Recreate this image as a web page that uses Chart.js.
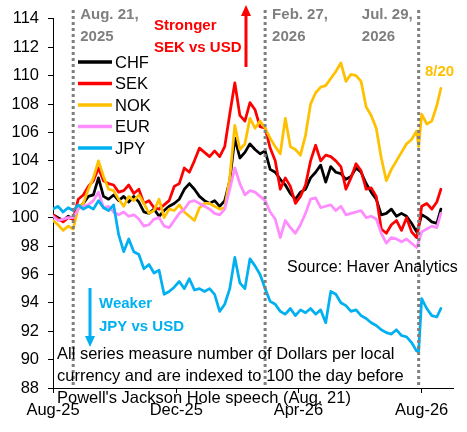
<!DOCTYPE html>
<html>
<head>
<meta charset="utf-8">
<script src="https://cdn.jsdelivr.net/npm/chart.js@4.4.1/dist/chart.umd.min.js"></script>
<style>
  html, body { margin: 0; padding: 0; background: #fff; }
</style>
</head>
<body>
<canvas id="fxChart" width="467" height="432"></canvas>
<script>
// sample dates (every 5 days, plus Jul 29)
const dates = [
  '2025-08-01','2025-08-06','2025-08-11','2025-08-16','2025-08-21','2025-08-26','2025-08-31','2025-09-05','2025-09-10','2025-09-15',
  '2025-09-20','2025-09-25','2025-09-30','2025-10-05','2025-10-10','2025-10-15','2025-10-20','2025-10-25','2025-10-30','2025-11-04',
  '2025-11-09','2025-11-14','2025-11-19','2025-11-24','2025-11-29','2025-12-04','2025-12-09','2025-12-14','2025-12-19','2025-12-24',
  '2025-12-29','2026-01-03','2026-01-08','2026-01-13','2026-01-18','2026-01-23','2026-01-28','2026-02-02','2026-02-07','2026-02-12',
  '2026-02-17','2026-02-22','2026-02-27','2026-03-04','2026-03-09','2026-03-14','2026-03-19','2026-03-24','2026-03-29','2026-04-03',
  '2026-04-08','2026-04-13','2026-04-18','2026-04-23','2026-04-28','2026-05-03','2026-05-08','2026-05-13','2026-05-18','2026-05-23',
  '2026-05-28','2026-06-02','2026-06-07','2026-06-12','2026-06-17','2026-06-22','2026-06-27','2026-07-02','2026-07-07','2026-07-12',
  '2026-07-17','2026-07-22','2026-07-27','2026-07-29','2026-08-01','2026-08-06','2026-08-11','2026-08-16','2026-08-20'
];

const chf = [
  100.2,100.0,99.8,100.1,99.9,100.7,101.0,101.5,101.6,102.8,
  101.5,101.3,101.6,101.2,101.5,101.1,101.5,101.1,100.4,100.3,
  100.6,100.1,100.5,100.8,101.0,101.3,102.0,102.4,102.0,101.5,
  101.2,101.0,101.2,100.8,101.2,102.6,105.6,104.2,104.6,105.2,
  104.8,104.5,104.7,103.4,103.2,102.7,102.3,101.7,101.3,101.8,
  102.0,102.8,103.2,103.7,102.5,103.6,103.2,103.1,102.7,102.9,
  103.5,103.2,102.4,101.8,101.3,100.2,100.3,100.6,100.1,100.3,
  100.1,99.6,99.0,99.4,100.2,100.0,99.7,99.6,100.6
];
const sek = [
  100.2,99.9,99.7,100.0,99.9,101.3,101.6,102.2,102.6,103.5,
  102.6,102.4,102.3,101.8,101.9,102.3,101.7,102.0,101.0,101.2,
  100.7,100.6,100.9,101.2,102.2,102.4,103.5,103.2,104.0,104.9,
  104.6,104.3,104.7,104.3,105.0,107.3,109.5,107.2,106.8,108.1,
  107.6,106.4,106.3,104.9,104.0,102.0,102.8,102.2,101.0,101.5,
  102.3,104.0,105.1,104.0,104.4,104.3,104.0,103.6,102.0,102.8,
  103.8,103.3,102.0,102.1,101.5,99.2,98.9,99.5,99.8,99.1,
  100.0,99.0,98.6,99.3,100.8,101.0,100.6,101.1,102.0
];
const nok = [
  99.8,99.5,99.1,99.4,99.2,100.7,101.0,102.0,102.8,104.0,
  102.9,102.0,101.9,101.3,100.8,101.5,101.2,101.6,101.0,100.3,
  100.5,101.3,100.0,100.6,100.5,100.9,100.4,100.1,99.8,100.7,
  101.0,101.0,100.8,100.6,100.7,102.8,106.5,104.8,105.2,107.0,
  106.3,106.8,106.3,105.6,105.0,104.5,107.0,105.0,104.8,104.4,
  105.8,108.0,108.8,109.2,109.3,109.8,110.3,110.9,109.6,110.1,
  110.0,109.6,107.8,107.2,106.3,104.2,102.6,103.4,104.0,104.6,
  105.2,105.5,106.1,105.0,107.3,106.6,106.8,107.9,109.1
];
const eur = [
  100.1,99.8,99.9,100.0,100.0,100.6,100.8,100.9,101.2,101.8,
  100.7,100.8,100.4,100.2,100.4,100.1,100.2,99.9,99.4,99.5,
  99.9,100.0,99.4,99.3,99.8,100.3,100.6,101.1,101.2,101.0,
  100.8,100.6,100.3,100.2,100.6,102.0,103.5,102.4,101.6,101.9,
  101.8,101.5,101.2,100.4,99.9,98.6,99.8,99.3,98.9,99.5,
  100.3,101.3,101.4,100.7,100.8,100.9,100.5,100.8,100.2,100.3,
  100.4,100.5,100.0,100.1,99.9,98.9,98.2,98.6,98.5,98.3,
  98.5,98.2,97.9,98.3,99.0,99.2,99.4,99.3,100.3
];
const jpy = [
  100.6,100.8,100.4,100.7,100.5,100.9,100.6,100.8,100.6,101.2,
  100.7,100.5,100.9,98.8,97.6,98.5,97.6,97.4,96.4,96.7,
  96.1,96.3,94.6,94.8,95.1,95.5,95.0,95.7,94.9,95.0,
  94.8,95.0,94.6,93.4,93.9,95.0,97.2,95.4,95.0,97.1,
  96.6,96.0,95.0,94.1,93.9,93.4,93.2,93.6,93.1,93.5,
  93.3,93.6,93.2,93.5,92.6,94.8,94.6,94.0,93.8,93.4,
  93.5,93.1,92.9,92.6,92.4,92.1,91.9,91.8,92.1,91.7,
  91.6,91.2,90.6,90.6,94.3,93.6,93.1,93.0,93.6
];

const seriesNames = ['CHF', 'SEK', 'NOK', 'EUR', 'JPY'];
const seriesValues = [chf, sek, nok, eur, jpy];
const seriesColors = ['#000000', '#FF0000', '#FFC000', '#FF8CFF', '#00B0F0'];

const tickDates = ['2025-08-01', '2025-12-01', '2026-04-01', '2026-08-01'];
const tickLabels = ['Aug-25', 'Dec-25', 'Apr-26', 'Aug-26'];
const axisStart = '2025-08-01';
const axisEnd = '2026-09-01';

const eventDates = ['2025-08-21', '2026-02-27', '2026-07-29'];
const eventLabels = [['Aug. 21,', '2025'], ['Feb. 27,', '2026'], ['Jul. 29,', '2026']];

const noteLines = [
  'All series measure number of Dollars per local',
  'currency and are indexed to 100 the day before',
  "Powell's Jackson Hole speech (Aug. 21)"
];

const FONT = '"Liberation Sans", Arial, sans-serif';

// days since epoch
function day(s) {
  return Date.parse(s + 'T00:00:00Z') / 864e5;
}

function arrow(ctx, x, y1, y2, color) {
  const dir = y2 < y1 ? -1 : 1;
  ctx.strokeStyle = color;
  ctx.fillStyle = color;
  ctx.lineWidth = 3;
  ctx.setLineDash([]);
  ctx.beginPath();
  ctx.moveTo(x, y1);
  ctx.lineTo(x, y2 - dir * 8);
  ctx.stroke();
  ctx.beginPath();
  ctx.moveTo(x, y2);
  ctx.lineTo(x - 5, y2 - dir * 11);
  ctx.lineTo(x + 5, y2 - dir * 11);
  ctx.closePath();
  ctx.fill();
}

// dotted event lines, legend and text notes
const notesPlugin = {
  id: 'notes',
  afterDatasetsDraw(chart) {
    const ctx = chart.ctx;
    const xs = chart.scales.x;
    const area = chart.chartArea;
    ctx.save();

    // event lines
    ctx.strokeStyle = '#7F7F7F';
    ctx.lineWidth = 3;
    ctx.setLineDash([3, 3]);
    eventDates.forEach(d => {
      const x = xs.getPixelForValue(day(d));
      ctx.beginPath();
      ctx.moveTo(x, 10);
      ctx.lineTo(x, area.bottom - 2);
      ctx.stroke();
    });
    ctx.setLineDash([]);

    // event labels
    ctx.textBaseline = 'middle';
    ctx.fillStyle = '#7F7F7F';
    ctx.font = 'bold 15px ' + FONT;
    eventLabels.forEach((lines, i) => {
      const x = xs.getPixelForValue(day(eventDates[i]));
      let left = x + 7;
      if (i === 2) left = x - 6 - ctx.measureText(lines[0]).width;
      ctx.fillText(lines[0], left, 15);
      ctx.fillText(lines[1], left, 37);
    });

    // legend
    ctx.font = '16.5px ' + FONT;
    seriesNames.forEach((n, i) => {
      const y = 62 + i * 21.5;
      ctx.strokeStyle = seriesColors[i];
      ctx.lineWidth = 3.5;
      ctx.beginPath();
      ctx.moveTo(78, y);
      ctx.lineTo(112, y);
      ctx.stroke();
      ctx.fillStyle = '#000';
      ctx.fillText(n, 115, y + 1);
    });

    // direction notes
    ctx.font = 'bold 15px ' + FONT;
    ctx.fillStyle = '#FF0000';
    ctx.fillText('Stronger', 154, 26);
    ctx.fillText('SEK vs USD', 154, 48);
    arrow(ctx, 246, 67, 5, '#FF0000');

    ctx.fillStyle = '#00B0F0';
    ctx.fillText('Weaker', 99, 304);
    ctx.fillText('JPY vs USD', 99, 327);
    arrow(ctx, 90, 288, 347, '#00B0F0');

    ctx.fillStyle = '#FFC000';
    ctx.fillText('8/20', 425, 72);

    // source and footnote
    ctx.fillStyle = '#000';
    ctx.font = '16px ' + FONT;
    ctx.fillText('Source: Haver Analytics', 287, 268);
    ctx.font = '16.5px ' + FONT;
    noteLines.forEach((t, i) => ctx.fillText(t, 57, 354 + i * 22));

    ctx.restore();
  }
};

const datasets = seriesNames.map((name, i) => ({
  label: name,
  data: dates.map((d, j) => ({ x: day(d), y: seriesValues[i][j] })),
  borderColor: seriesColors[i],
  borderWidth: 2.75,
  borderJoinStyle: 'round',
  borderCapStyle: 'round',
  pointRadius: 0,
  tension: 0,
  fill: false,
  order: seriesNames.length - i
}));

const tickFont = { family: FONT, size: 16.5 };

new Chart(document.getElementById('fxChart'), {
  type: 'line',
  data: { datasets },
  options: {
    responsive: false,
    animation: false,
    layout: { padding: { top: 15, right: 14, left: 0, bottom: 0 } },
    plugins: {
      legend: { display: false },
      tooltip: { enabled: false }
    },
    scales: {
      x: {
        type: 'linear',
        min: day(axisStart),
        max: day(axisEnd),
        afterBuildTicks: s => { s.ticks = tickDates.map(d => ({ value: day(d) })); },
        afterFit: s => { s.height = 44; },
        ticks: {
          callback: (v, i) => tickLabels[i],
          font: tickFont,
          color: '#000',
          maxRotation: 0,
          autoSkip: false,
          padding: 8
        },
        grid: { drawOnChartArea: false, drawTicks: true, tickLength: 5, color: '#000' },
        border: { display: true, color: '#000', width: 1 }
      },
      y: {
        min: 88,
        max: 114,
        afterFit: s => { s.width = 53; },
        ticks: { stepSize: 2, font: tickFont, color: '#000', padding: 9 },
        grid: { drawOnChartArea: false, drawTicks: true, tickLength: 5, color: '#000' },
        border: { display: true, color: '#000', width: 1 }
      }
    }
  },
  plugins: [notesPlugin]
});
</script>
</body>
</html>
